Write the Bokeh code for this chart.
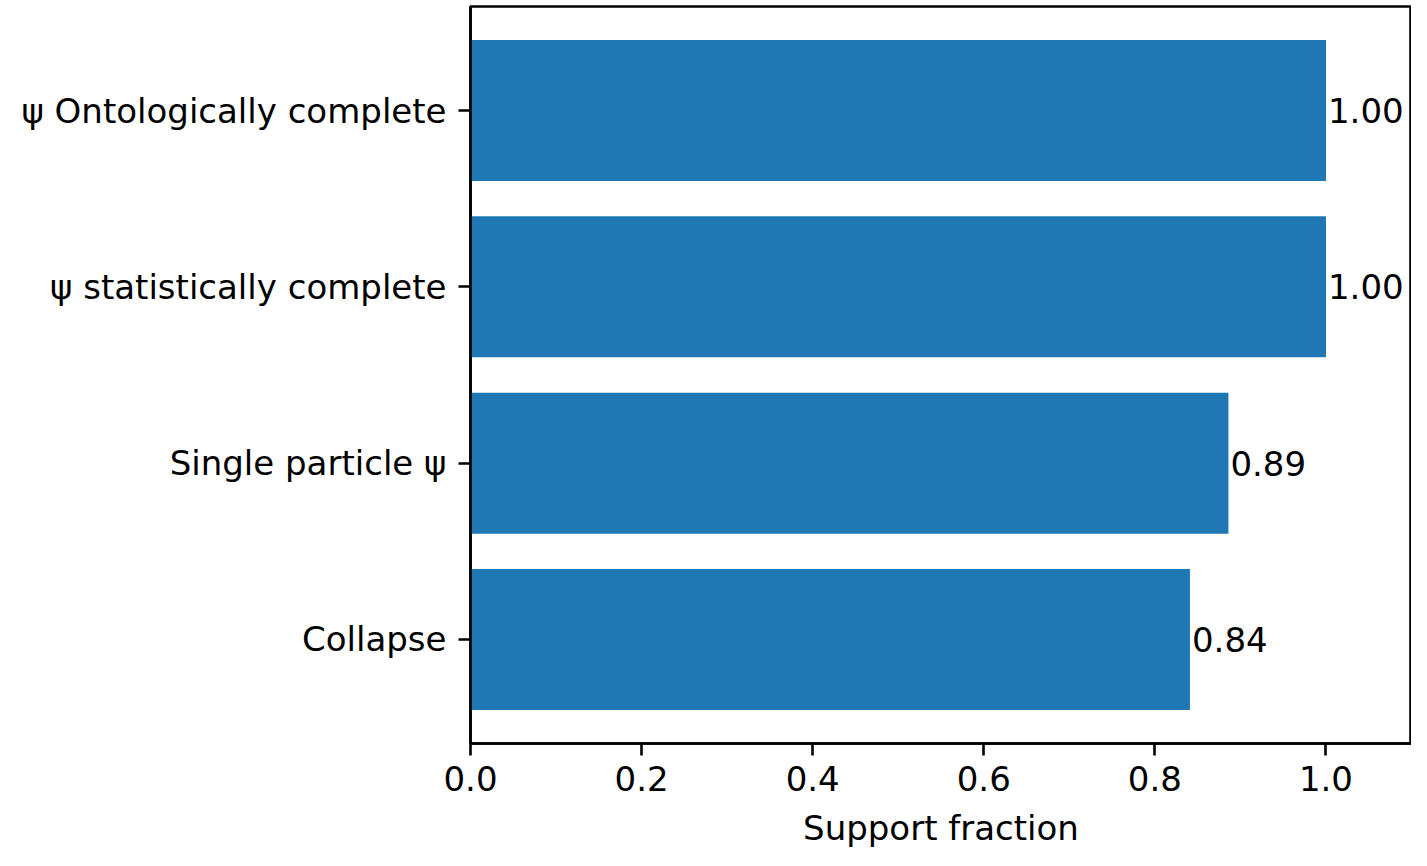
from bokeh.plotting import figure
from bokeh.models import Range1d, FixedTicker, ColumnDataSource
from bokeh.embed import file_html
from bokeh.resources import INLINE

categories = ["Collapse", "Single particle ψ", "ψ statistically complete", "ψ Ontologically complete"]
values = [0.841, 0.886, 1.0, 1.0]
labels = ["0.84", "0.89", "1.00", "1.00"]
x_ticks = [0.0, 0.2, 0.4, 0.6, 0.8, 1.0]

pos = list(range(len(categories)))
src = ColumnDataSource(dict(y=pos, v=values, lab=labels))

FONT = "DejaVu Sans"
p = figure(width=1411, height=850, output_backend="svg", toolbar_location=None,
           x_range=Range1d(0, 1.1), y_range=Range1d(-0.59, 3.59),
           min_border_left=470, min_border_right=0, min_border_top=6, min_border_bottom=100)
p.hbar(y="y", right="v", left=0, height=0.8, source=src, color="#1f77b4", line_color=None)
p.text(x="v", y="y", text="lab", source=src, x_offset=2, text_align="left",
       text_baseline="middle", text_font_size="34px", text_color="black",
       text_font={"value": FONT})

p.xgrid.visible = False
p.ygrid.visible = False
p.outline_line_color = "black"
p.outline_line_width = 2.6
p.outline_line_alpha = 1.0
p.background_fill_color = "white"
p.border_fill_color = "white"

p.xaxis.ticker = FixedTicker(ticks=x_ticks)
p.xaxis.major_label_overrides = {t: f"{t:.1f}" for t in x_ticks}
p.yaxis.ticker = FixedTicker(ticks=pos)
p.yaxis.major_label_overrides = {i: c for i, c in zip(pos, categories)}
p.xaxis.axis_label = "Support fraction"

for ax in (p.xaxis[0], p.yaxis[0]):
    ax.axis_line_width = 2.6
    ax.axis_line_color = "black"
    ax.major_tick_line_width = 2.6
    ax.major_tick_line_color = "black"
    ax.major_tick_out = 12
    ax.major_tick_in = 0
    ax.minor_tick_line_color = None
    ax.major_label_text_font = FONT
    ax.major_label_text_font_size = "34px"
    ax.major_label_text_color = "black"
    ax.major_label_standoff = 12
    ax.axis_label_text_font = FONT
    ax.axis_label_text_font_size = "34px"
    ax.axis_label_text_font_style = "normal"
    ax.axis_label_text_color = "black"
p.xaxis.major_label_standoff = 10
p.xaxis.axis_label_standoff = 14

open("out.html", "w").write(file_html(p, INLINE))
